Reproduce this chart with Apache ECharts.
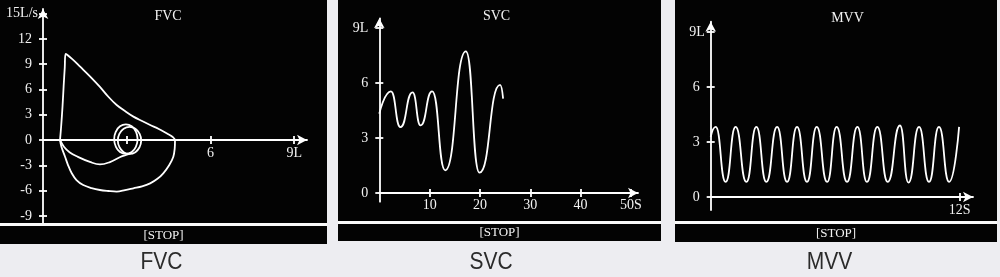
<!DOCTYPE html>
<html>
<head>
<meta charset="utf-8">
<script src="https://cdn.jsdelivr.net/npm/echarts@6/dist/echarts.min.js"></script>
<style>
html,body{margin:0;padding:0;background:#ededf1;}
#c{width:1000px;height:277px;}
</style>
</head>
<body>
<div id="c"></div>
<script>
// ---------------- DATA ----------------
// FVC: flow-volume loop, [volume L, flow L/s]
const fvcLoop = [
  [0.61,0],[0.65,1.6],[0.70,4.0],[0.74,6.4],[0.78,8.6],[0.81,10.2],
  [1.05,9.6],[1.33,8.7],[1.70,7.5],[2.04,6.3],[2.35,5.1],[2.64,4.15],
  [2.95,3.4],[3.24,2.77],[3.55,2.25],[3.84,1.78],[4.15,1.3],[4.43,0.79],
  [4.65,0.35],[4.73,0],[4.72,-1.0],[4.67,-1.98],[4.52,-3.0],[4.31,-3.95],
  [4.10,-4.6],[3.84,-5.14],[3.55,-5.5],[3.24,-5.73],[2.94,-5.95],[2.64,-6.13],
  [2.34,-6.05],[2.04,-5.93],[1.74,-5.7],[1.44,-5.34],[1.20,-4.75],[1.03,-3.95],
  [0.90,-3.0],[0.79,-1.98],[0.66,-0.8],[0.61,0]
];
const fvcTidal = [
  [0.61,0],[0.75,-0.8],[0.95,-1.45],[1.25,-2.0],[1.68,-2.6],[2.04,-2.9],
  [2.40,-2.62],[2.75,-2.05],[3.0,-1.75],[3.2,-1.5]
];
const fvcCircleA = [
  [3.39,0.1],[3.33,0.98],[3.18,1.62],[2.97,1.85],[2.76,1.62],[2.61,0.98],
  [2.55,0.1],[2.61,-0.78],[2.76,-1.42],[2.97,-1.65],[3.18,-1.42],[3.33,-0.78],[3.39,0.1]
];
const fvcCircleB = [
  [3.52,-0.05],[3.46,0.75],[3.31,1.34],[3.10,1.55],[2.89,1.34],[2.74,0.75],
  [2.68,-0.05],[2.74,-0.85],[2.89,-1.44],[3.10,-1.65],[3.31,-1.44],[3.46,-0.85],[3.52,-0.05]
];
// SVC: [time s, volume L]
const svcData = [
  [0,4.33],[2.3,5.55],[4.2,3.6],[6.6,5.49],[8.2,3.69],[10.5,5.55],
  [13.1,1.24],[17.2,7.73],[19.9,1.11],[24.0,5.9],[24.6,5.15]
];
// MVV: [time s, volume L]
const mvvData = [
  [0,3.27],[0.24,3.82],[0.72,0.82],[1.2,3.82],[1.72,0.82],[2.2,3.82],[2.68,0.82],
  [3.2,3.82],[3.68,0.82],[4.16,3.82],[4.64,0.82],[5.11,3.82],[5.61,0.82],[6.07,3.82],
  [6.57,0.82],[7.07,3.82],[7.53,0.82],[8.03,3.82],[8.53,0.82],[9.12,3.9],[9.53,0.78],
  [10.04,3.82],[10.52,0.82],[11.0,3.82],[11.49,0.82],[11.97,3.82]
];
// Tick values and labels
const fvcXTicks = [3,6,9];
const fvcXLabels = ['', '6', '9L'];
const fvcYTicks = [-9,-6,-3,0,3,6,9,12,15];
const fvcYLabels = ['-9','-6','-3','0','3','6','9','12','15L/s'];
const svcXTicks = [10,20,30,40,50];
const svcXLabels = ['10','20','30','40','50S'];
const svcYTicks = [0,3,6,9];
const svcYLabels = ['0','3','6','9L'];
const mvvXTicks = [12];
const mvvXLabels = ['12S'];
const mvvYTicks = [0,3,6,9];
const mvvYLabels = ['0','3','6','9L'];
const panelTitles = ['FVC','SVC','MVV'];
const captions = ['FVC','SVC','MVV'];
const stopText = '[STOP]';

// ---------------- LAYOUT ----------------
const SERIF = 'Liberation Serif';
const labelFont = {color:'#f2f2f2', fontFamily:SERIF, fontSize:14};
const LW = 1.8;

function axes(dim, gi, min, max, ticks, labels, lab1, lab2, m1, m2, offset) {
  const fmt = v => { const i = ticks.indexOf(v); return i >= 0 ? labels[i] : ''; };
  const pos = dim === 'x' ? 'bottom' : 'left';
  const primary = {
    type:'value', gridIndex:gi, min:min, max:max, position:pos, offset:offset,
    axisLine:{show:true, onZero:false, symbol:['none','arrow'], symbolSize:[8,10],
      lineStyle:{color:'#ffffff', width:LW}},
    axisTick:{show:true, inside:false, length:4, customValues:ticks,
      lineStyle:{color:'#ffffff', width:LW}},
    axisLabel:Object.assign({show:true, customValues:lab1, margin:m1, formatter:fmt}, labelFont),
    splitLine:{show:false}
  };
  const secondary = {
    type:'value', gridIndex:gi, min:min, max:max, position:pos, offset:offset,
    axisLine:{show:false, onZero:false},
    axisTick:{show:true, inside:true, length:4, customValues:ticks,
      lineStyle:{color:'#ffffff', width:LW}},
    axisLabel:Object.assign({show:lab2.length>0, customValues:lab2, margin:m2, formatter:fmt}, labelFont),
    splitLine:{show:false}
  };
  return [primary, secondary];
}

const grids = [
  {left:43, top:9, width:264, height:213.7},
  {left:379.3, top:18.3, width:258.7, height:183.4},
  {left:710.7, top:21.7, width:262.3, height:188.3}
];

const xAxes = [].concat(
  axes('x', 0, 0, 9.46, fvcXTicks, fvcXLabels, [6,9], [], 6, 6, -82.7),
  axes('x', 1, 0, 51.4, svcXTicks, svcXLabels, svcXTicks, [], 5, 5, -8.7),
  axes('x', 2, 0, 12.64, mvvXTicks, mvvXLabels, mvvXTicks, [], 6, 6, -13)
);
const yAxes = [].concat(
  axes('y', 0, -9.81, 15.54, fvcYTicks, fvcYLabels, [-9,-6,-3,0,3,6,9,12], [15], 11, 5, 0),
  axes('y', 1, -0.47, 9.53, svcYTicks, svcYLabels, svcYTicks, [], 11, 11, 0),
  axes('y', 2, -0.71, 9.56, mvvYTicks, mvvYLabels, [0,3,6], [9], 11, 6, 0)
);

function lineSeries(data, gi, smooth, mono) {
  const s = {
    type:'line', data:data, xAxisIndex:gi*2, yAxisIndex:gi*2,
    showSymbol:false, symbol:'none', smooth:smooth, animation:false,
    lineStyle:{color:'#ffffff', width:LW}, silent:true
  };
  if (mono) s.smoothMonotone = mono;
  return s;
}

const panels = [
  {x:0, w:327, mainH:223, barY:226, barH:18},
  {x:338, w:323, mainH:221, barY:224, barH:17},
  {x:675, w:322, mainH:221, barY:224, barH:18}
];
const titlePos = [[168,16.5],[496.5,16.5],[847.5,18.5]];
const captionX = [161.5, 491, 829.5];

const graphics = [];
panels.forEach((p, i) => {
  graphics.push({type:'rect', silent:true, z:-10, shape:{x:p.x, y:p.mainH, width:p.w, height:p.barY-p.mainH}, style:{fill:'#fafafa'}});
  graphics.push({type:'rect', silent:true, z:-10, shape:{x:p.x, y:0, width:p.w, height:p.mainH}, style:{fill:'#030303'}});
  graphics.push({type:'rect', silent:true, z:-10, shape:{x:p.x, y:p.barY, width:p.w, height:p.barH}, style:{fill:'#030303'}});
  graphics.push({type:'text', silent:true, x:titlePos[i][0], y:titlePos[i][1],
    style:{text:panelTitles[i], fill:'#f2f2f2', font:'14px "Liberation Serif"', align:'center', verticalAlign:'middle'}});
  graphics.push({type:'text', silent:true, x:p.x + p.w/2, y:p.barY + p.barH/2 + 0.5,
    style:{text:stopText, fill:'#f2f2f2', font:'13px "Liberation Serif"', align:'center', verticalAlign:'middle'}});
  graphics.push({type:'text', silent:true, x:captionX[i], y:262, scaleY:1.18,
    style:{text:captions[i], fill:'#2b2b2b', font:'21px "Liberation Sans"', align:'center', verticalAlign:'middle'}});
});

const chart = echarts.init(document.getElementById('c'), null, {renderer:'canvas'});
chart.setOption({
  backgroundColor:'#ededf1',
  animation:false,
  grid:grids,
  xAxis:xAxes,
  yAxis:yAxes,
  graphic:{elements:graphics},
  series:[
    lineSeries(fvcLoop, 0, 0.35),
    lineSeries(fvcTidal, 0, 0.4),
    lineSeries(fvcCircleA, 0, 0.5),
    lineSeries(fvcCircleB, 0, 0.5),
    lineSeries(svcData, 1, 0.55, 'x'),
    lineSeries(mvvData, 2, 0.55, 'x')
  ]
});
</script>
</body>
</html>
